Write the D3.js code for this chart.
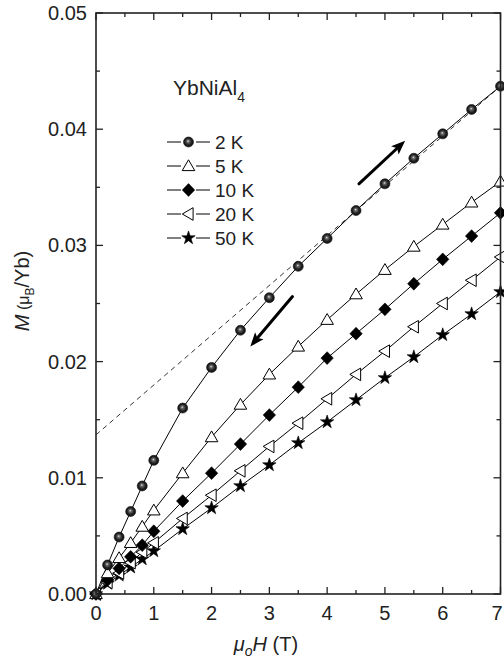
<!DOCTYPE html>
<html>
<head>
<meta charset="utf-8">
<script src="https://cdn.jsdelivr.net/npm/d3@7/dist/d3.min.js"></script>
<style>
  html, body { margin: 0; padding: 0; background: #fff; }
  svg { display: block; font-family: "Liberation Sans", Arial, Helvetica, sans-serif; }
</style>
</head>
<body>
<svg id="chart" width="504" height="661"></svg>
<script>
// Magnetisation M (μB/Yb) of YbNiAl4 versus applied field μoH (T)
const fields = [0, 0.2, 0.4, 0.6, 0.8, 1.0, 1.5, 2.0, 2.5, 3.0, 3.5, 4.0, 4.5, 5.0, 5.5, 6.0, 6.5, 7.0];

const m2K  = [0, 0.0025, 0.0049, 0.0071, 0.0093, 0.0115, 0.0160, 0.0195, 0.0227, 0.0255, 0.0282, 0.0306, 0.0330, 0.0353, 0.0375, 0.0396, 0.0417, 0.0437];
const m5K  = [0, 0.0018, 0.0031, 0.0044, 0.0058, 0.0072, 0.0104, 0.0135, 0.0163, 0.0189, 0.0213, 0.0236, 0.0258, 0.0279, 0.0299, 0.0318, 0.0337, 0.0355];
const m10K = [0, 0.0012, 0.0022, 0.0032, 0.0042, 0.0054, 0.0080, 0.0104, 0.0129, 0.0154, 0.0178, 0.0203, 0.0224, 0.0245, 0.0267, 0.0288, 0.0308, 0.0328];
const m20K = [0, 0.0010, 0.0018, 0.0027, 0.0036, 0.0044, 0.0065, 0.0085, 0.0106, 0.0127, 0.0147, 0.0168, 0.0189, 0.0209, 0.0230, 0.0250, 0.0270, 0.0290];
const m50K = [0, 0.0009, 0.0016, 0.0023, 0.0030, 0.0037, 0.0056, 0.0074, 0.0093, 0.0111, 0.0130, 0.0148, 0.0167, 0.0186, 0.0204, 0.0223, 0.0241, 0.0260];

const seriesNames = ["2 K", "5 K", "10 K", "20 K", "50 K"];
const seriesMarks = ["sphere", "triUp", "diamond", "triLeft", "star"];

// high-field linear extrapolation of the 2 K curve
const fitLine = [[0, 0.0137], [7, 0.0437]];
// sweep-direction arrows
const arrowUp = [[4.55, 0.0353], [5.35, 0.0390]];
const arrowDown = [[3.40, 0.0256], [2.67, 0.0213]];

const xTicks = [0, 1, 2, 3, 4, 5, 6, 7];
const yTicks = [0, 0.01, 0.02, 0.03, 0.04, 0.05];
const yTickLabels = ["0.00", "0.01", "0.02", "0.03", "0.04", "0.05"];

const svg = d3.select("#chart");
const L = 96, R = 500.5, T = 13, B = 594;
const x = d3.scaleLinear().domain([0, 7]).range([L, R]);
const y = d3.scaleLinear().domain([0, 0.05]).range([B, T]);

const defs = svg.append("defs");
const grad = defs.append("radialGradient").attr("id", "sphere")
  .attr("cx", "50%").attr("cy", "50%").attr("r", "55%").attr("fx", "45%").attr("fy", "40%");
grad.append("stop").attr("offset", "0%").attr("stop-color", "#e8e8e8");
grad.append("stop").attr("offset", "22%").attr("stop-color", "#6a6a6a");
grad.append("stop").attr("offset", "60%").attr("stop-color", "#222");
grad.append("stop").attr("offset", "100%").attr("stop-color", "#0a0a0a");

// marker shapes
function markerPath(kind) {
  switch (kind) {
    case "triUp":   return "M0,-6.2L6.3,4.6L-6.3,4.6Z";
    case "triLeft": return "M-6.2,0L4.6,-6.3L4.6,6.3Z";
    case "diamond": return "M0,-6.4L6.2,0L0,6.4L-6.2,0Z";
    case "star":    return d3.symbol(d3.symbolStar, 56)();
  }
  return null;
}
function drawMarker(g, kind, cx, cy) {
  if (kind === "sphere") {
    g.append("circle").attr("cx", cx).attr("cy", cy).attr("r", 5)
      .attr("fill", "url(#sphere)").attr("stroke", "#111").attr("stroke-width", 0.6);
  } else {
    const open = kind === "triUp" || kind === "triLeft";
    g.append("path").attr("d", markerPath(kind))
      .attr("transform", `translate(${cx},${cy})`)
      .attr("fill", open ? "#fff" : "#000")
      .attr("stroke", "#000").attr("stroke-width", open ? 1 : 0.6)
      .attr("stroke-linejoin", "miter");
  }
}

// dashed extrapolation
svg.append("line")
  .attr("x1", x(fitLine[0][0])).attr("y1", y(fitLine[0][1]))
  .attr("x2", x(fitLine[1][0])).attr("y2", y(fitLine[1][1]))
  .attr("stroke", "#000").attr("stroke-width", 0.8).attr("stroke-dasharray", "5,4");

// curves
const allSeries = [m2K, m5K, m10K, m20K, m50K];
const line = d3.line().x(d => x(d[0])).y(d => y(d[1]));
const series = allSeries.map((vals, i) => ({ name: seriesNames[i], mark: seriesMarks[i], pts: fields.map((f, j) => [f, vals[j]]) }));

series.slice().reverse().forEach(s => {
  svg.append("path").attr("d", line(s.pts)).attr("fill", "none")
    .attr("stroke", "#000").attr("stroke-width", 1);
});
series.slice().reverse().forEach(s => {
  const g = svg.append("g");
  s.pts.forEach(p => drawMarker(g, s.mark, x(p[0]), y(p[1])));
});

// arrows
function drawArrow(a) {
  const x1 = x(a[0][0]), y1 = y(a[0][1]), x2 = x(a[1][0]), y2 = y(a[1][1]);
  const ang = Math.atan2(y2 - y1, x2 - x1);
  const hl = 14, hw = 5.5;
  const bx = x2 - hl * Math.cos(ang), by = y2 - hl * Math.sin(ang);
  svg.append("line").attr("x1", x1).attr("y1", y1).attr("x2", bx + 2 * Math.cos(ang)).attr("y2", by + 2 * Math.sin(ang))
    .attr("stroke", "#000").attr("stroke-width", 3).attr("stroke-linecap", "round");
  const px = -Math.sin(ang), py = Math.cos(ang);
  svg.append("path")
    .attr("d", `M${x2},${y2}L${bx + hw * px},${by + hw * py}L${bx + 3 * Math.cos(ang)},${by + 3 * Math.sin(ang)}L${bx - hw * px},${by - hw * py}Z`)
    .attr("fill", "#000");
}
drawArrow(arrowUp);
drawArrow(arrowDown);

// frame and ticks
const axisColor = "#222";
svg.append("rect").attr("x", L).attr("y", T).attr("width", R - L).attr("height", B - T)
  .attr("fill", "none").attr("stroke", axisColor).attr("stroke-width", 1.6);

const xMinor = d3.range(0, 7.01, 0.5);
const yMinor = d3.range(0, 0.0501, 0.005);
const tg = svg.append("g").attr("stroke", axisColor).attr("stroke-width", 1.3);
xMinor.forEach(v => {
  const major = Math.abs(v - Math.round(v)) < 1e-9;
  const len = major ? 7 : 4;
  tg.append("line").attr("x1", x(v)).attr("x2", x(v)).attr("y1", B).attr("y2", B - len);
  tg.append("line").attr("x1", x(v)).attr("x2", x(v)).attr("y1", T).attr("y2", T + len);
});
yMinor.forEach((v, i) => {
  const len = i % 2 === 0 ? 7 : 4;
  tg.append("line").attr("y1", y(v)).attr("y2", y(v)).attr("x1", L).attr("x2", L + len);
  tg.append("line").attr("y1", y(v)).attr("y2", y(v)).attr("x1", R).attr("x2", R - len);
});

// tick labels
const tl = svg.append("g").attr("font-size", 20).attr("fill", "#222");
xTicks.forEach(v => {
  tl.append("text").attr("x", Math.min(x(v), 497)).attr("y", 620).attr("text-anchor", "middle").text(v);
});
yTicks.forEach((v, i) => {
  tl.append("text").attr("x", 87).attr("y", y(v) + 7).attr("text-anchor", "end").text(yTickLabels[i]);
});

// axis titles
const xt = svg.append("text").attr("x", 266).attr("y", 651).attr("text-anchor", "middle")
  .attr("font-size", 20).attr("fill", "#222");
xt.append("tspan").attr("font-style", "italic").text("μ");
xt.append("tspan").attr("font-style", "italic").attr("font-size", 14).attr("dy", 5).text("o");
xt.append("tspan").attr("font-style", "italic").attr("dy", -5).text("H");
xt.append("tspan").text(" (T)");

const yt = svg.append("text").attr("transform", "translate(29,291) rotate(-90)")
  .attr("text-anchor", "middle").attr("font-size", 20).attr("fill", "#222");
yt.append("tspan").attr("font-style", "italic").text("M");
yt.append("tspan").attr("font-size", 16).text(" (μ");
yt.append("tspan").attr("font-size", 12).attr("dy", 5).text("B");
yt.append("tspan").attr("font-size", 20).attr("dy", -5).text("/Yb)");

// compound label
const ct = svg.append("text").attr("x", 173).attr("y", 95).attr("font-size", 21).attr("fill", "#222");
ct.append("tspan").text("YbNiAl");
ct.append("tspan").attr("font-size", 14).attr("dy", 7).text("4");

// legend
const legendY = [142, 166, 190, 214, 238];
series.forEach((s, i) => {
  const g = svg.append("g");
  const cy = legendY[i];
  g.append("line").attr("x1", 167).attr("x2", 181).attr("y1", cy).attr("y2", cy).attr("stroke", "#000").attr("stroke-width", 1);
  g.append("line").attr("x1", 196).attr("x2", 210).attr("y1", cy).attr("y2", cy).attr("stroke", "#000").attr("stroke-width", 1);
  drawMarker(g, s.mark, 188.5, cy);
  g.append("text").attr("x", 215).attr("y", cy + 7).attr("font-size", 19).attr("fill", "#222").text(s.name);
});
</script>
</body>
</html>
